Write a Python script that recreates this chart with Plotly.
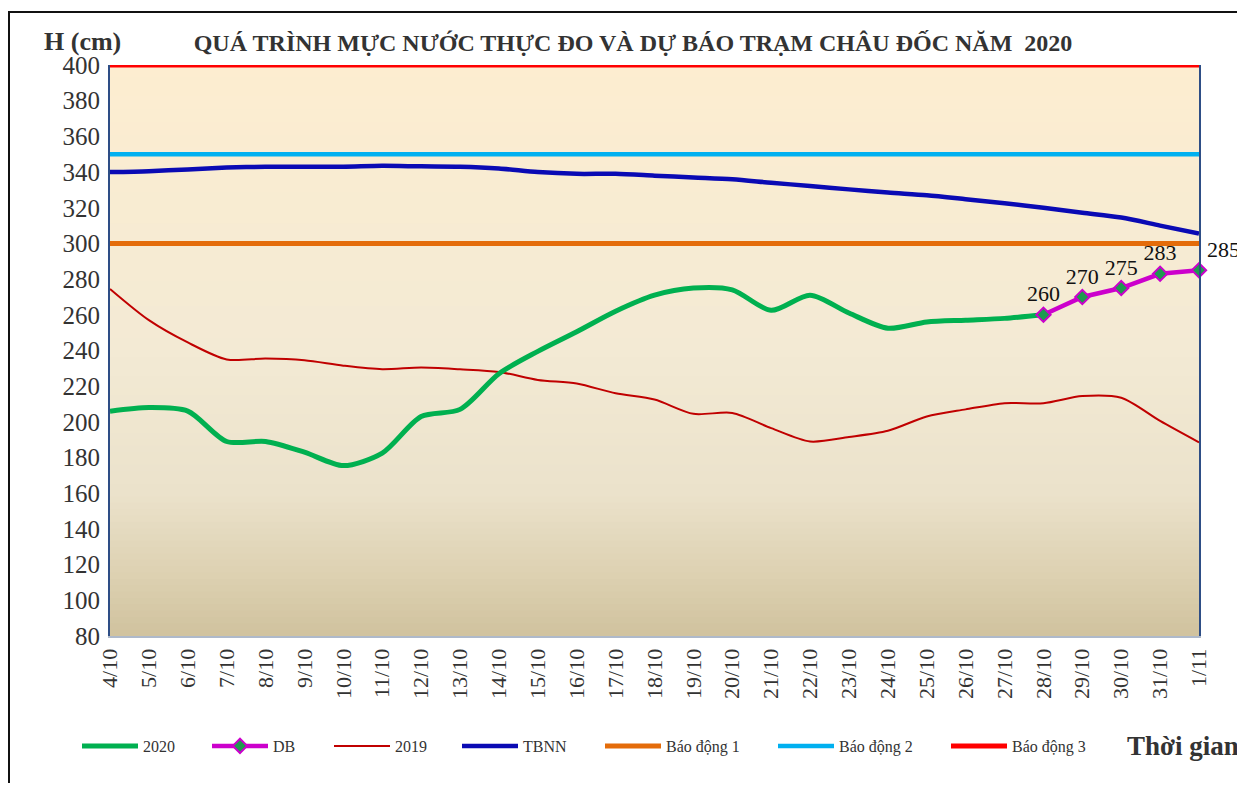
import plotly.graph_objects as go

# ---------------- data ----------------
dates = ['4/10', '5/10', '6/10', '7/10', '8/10', '9/10', '10/10', '11/10', '12/10',
         '13/10', '14/10', '15/10', '16/10', '17/10', '18/10', '19/10', '20/10',
         '21/10', '22/10', '23/10', '24/10', '25/10', '26/10', '27/10', '28/10',
         '29/10', '30/10', '31/10', '1/11']

h2020 = [206, 208, 206, 189, 189, 183, 175.5, 182.5, 203, 207, 227, 239.5, 250.5,
         262, 271, 275, 274, 262.5, 271, 261, 252.5, 256, 257, 258, 260]

db_dates = ['28/10', '29/10', '30/10', '31/10', '1/11']
db_vals = [260, 270, 275, 283, 285]

h2019 = [274.5, 257, 244.5, 235, 235.5, 234.5, 231.5, 229.5, 230.5, 229.5, 228,
         223.5, 221.5, 216, 212.5, 204.5, 205, 196.5, 189, 191.5, 195, 203, 207,
         210.5, 210.5, 214.5, 213.5, 200.5, 188.5]

tbnn = [340, 340.5, 341.5, 342.5, 343, 343, 343, 343.5, 343.2, 343, 342, 340, 339,
        339, 338, 337, 336, 334, 332.2, 330.3, 328.5, 327, 324.8, 322.5, 320, 317.2,
        314.5, 310, 305.5]

alarm_names = ['Báo động 1', 'Báo động 2', 'Báo động 3']
alarm_levels = [300, 350, 400]
alarm_colors = ['#E46C0A', '#00B0F0', '#FF0000']
alarm_widths = [5, 4.5, 5]

y_ticks = list(range(80, 401, 20))

# ---------------- layout geometry ----------------
# the page body has an 8px margin, so the figure is offset by 8px
OFF = 8
W, H = 1245 - OFF, 791 - 2 * OFF
PL, PR, PT, PB = 110, 1199, 65, 636          # plot area in page pixels
ML = PL - OFF
MT = PT - OFF
PW = PR - PL
PH = PB - PT
MR = W - ML - PW
MB = H - MT - PH

def px_x(x):
    return (x - PL) / PW

def px_y(y):
    return (PB - y) / PH

SERIF = 'Liberation Serif, Times New Roman, serif'

fig = go.Figure()

legend_px = [83, 213, 335, 463, 606, 779, 952]
legend_ids = ['legend', 'legend2', 'legend3', 'legend4', 'legend5', 'legend6', 'legend7']

# alarm lines
for i, (nm, lv, col, wd) in enumerate(zip(alarm_names, alarm_levels, alarm_colors, alarm_widths)):
    fig.add_trace(go.Scatter(
        x=dates, y=[lv] * len(dates), mode='lines', name=nm,
        line=dict(color=col, width=wd), legend=legend_ids[4 + i], hoverinfo='skip'))

# 2019
fig.add_trace(go.Scatter(
    x=dates, y=h2019, mode='lines', name='2019',
    line=dict(color='#C00000', width=2, shape='spline', smoothing=0.8),
    legend=legend_ids[2]))

# TBNN
fig.add_trace(go.Scatter(
    x=dates, y=tbnn, mode='lines', name='TBNN',
    line=dict(color='#0A0AB4', width=4.5, shape='spline', smoothing=0.8),
    legend=legend_ids[3]))

# 2020
fig.add_trace(go.Scatter(
    x=dates[:len(h2020)], y=h2020, mode='lines', name='2020',
    line=dict(color='#00B050', width=5, shape='spline', smoothing=0.8),
    legend=legend_ids[0]))

# DB forecast
fig.add_trace(go.Scatter(
    x=db_dates, y=db_vals, mode='lines+markers+text', name='DB',
    line=dict(color='#CC00CC', width=4.5),
    marker=dict(symbol='diamond', size=11, color='#1E9A50',
                line=dict(color='#CC00CC', width=2)),
    text=[str(v) for v in db_vals],
    textposition=['top center', 'top center', 'top center', 'top center', 'top right'],
    textfont=dict(family=SERIF, size=22, color='#111111'),
    cliponaxis=False, legend=legend_ids[1]))

# ---------------- background gradient (plot area) ----------------
stops = [(0.0, (208, 194, 158)), (0.1, (220, 208, 176)), (0.25, (235, 226, 203)),
         (0.5, (243, 234, 212)), (0.8, (249, 236, 210)), (1.0, (253, 237, 208))]

def col_at(t):
    for (t0, c0), (t1, c1) in zip(stops[:-1], stops[1:]):
        if t0 <= t <= t1:
            f = (t - t0) / (t1 - t0)
            return 'rgb(%d,%d,%d)' % tuple(round(a + (b - a) * f) for a, b in zip(c0, c1))
    return 'rgb(%d,%d,%d)' % stops[-1][1]

shapes = []
N = 90
for k in range(N):
    y0 = k / N
    y1 = (k + 1) / N
    shapes.append(dict(type='rect', xref='paper', yref='paper', x0=0, x1=1, y0=y0,
                       y1=min(1, y1 + 0.002),
                       fillcolor=col_at((y0 + y1) / 2), line=dict(width=0), layer='below'))

# outer frame
shapes.append(dict(type='rect', xref='paper', yref='paper',
                   x0=px_x(9), x1=px_x(1300), y0=px_y(900), y1=px_y(12),
                   line=dict(color='#111111', width=2), fillcolor='rgba(0,0,0,0)', layer='above'))

legends = {}
for lid, xp in zip(legend_ids, legend_px):
    legends[lid] = dict(
        orientation='h', x=px_x(xp - 6), xanchor='left', y=px_y(746), yanchor='middle',
        bgcolor='rgba(0,0,0,0)', borderwidth=0, itemwidth=56,
        font=dict(family=SERIF, size=16, color='#333333'), itemclick=False)

fig.update_layout(
    width=W, height=H,
    margin=dict(l=ML, r=MR, t=MT, b=MB),
    paper_bgcolor='white',
    plot_bgcolor='rgb(243,234,212)',
    shapes=shapes,
    title=dict(text='<b>QUÁ TRÌNH MỰC NƯỚC THỰC ĐO VÀ DỰ BÁO TRẠM CHÂU ĐỐC NĂM  2020</b>',
               x=(633 - OFF) / W, xanchor='center', y=1 - (43 - OFF) / H, yanchor='middle',
               font=dict(family=SERIF, size=24, color='#333333')),
    annotations=[
        dict(text='<b>H (cm)</b>', xref='paper', yref='paper', x=px_x(42), y=px_y(42),
             xanchor='left', yanchor='middle', showarrow=False,
             font=dict(family=SERIF, size=26, color='#333333')),
        dict(text='<b>Thời gian</b>', xref='paper', yref='paper', x=px_x(1125), y=px_y(746),
             xanchor='left', yanchor='middle', showarrow=False,
             font=dict(family=SERIF, size=27, color='#333333')),
    ],
    showlegend=True,
    **legends,
)

fig.update_xaxes(
    type='category', categoryorder='array', categoryarray=dates,
    range=[0, len(dates) - 1], showgrid=False, zeroline=False,
    tickangle=-90, tickfont=dict(family=SERIF, size=22, color='#333333'),
    showline=True, linecolor='#AEB9CA', linewidth=2, ticks='', ticklabelstandoff=2)

fig.update_yaxes(
    range=[80, 400], tickvals=y_ticks, showgrid=False, zeroline=False,
    tickfont=dict(family=SERIF, size=25, color='#333333'),
    showline=True, linecolor='#2E4E86', linewidth=2, mirror=True, ticks='',
    ticklabelstandoff=3)

fig.write_html('out.html')
